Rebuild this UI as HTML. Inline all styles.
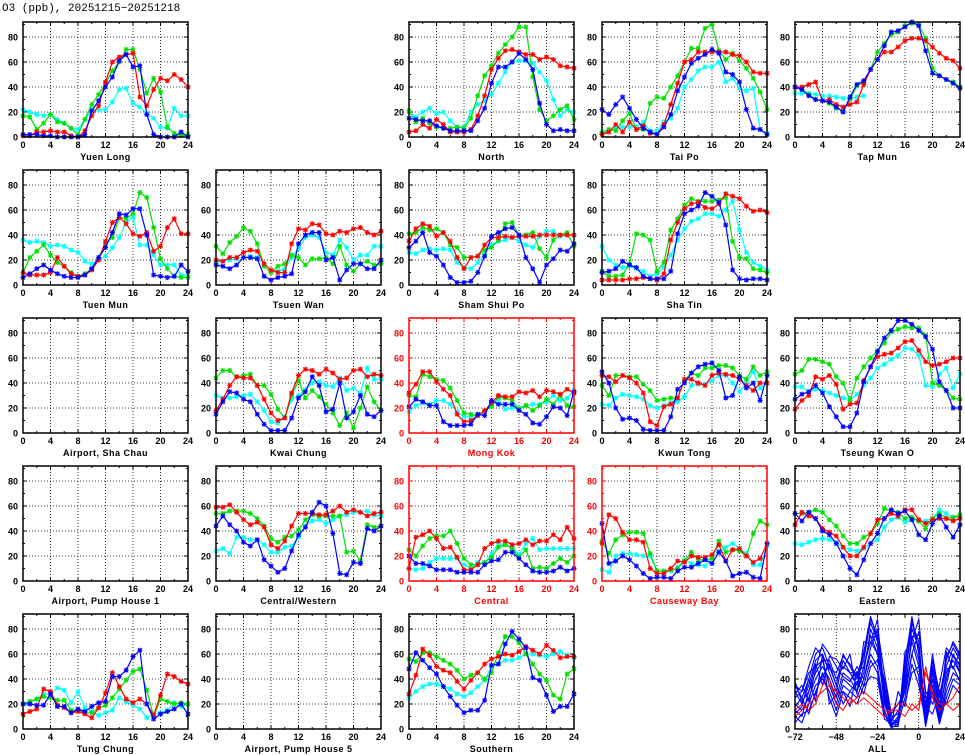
<!DOCTYPE html>
<html><head><meta charset="utf-8">
<style>
html,body{margin:0;padding:0;background:#fff;}
svg{display:block;font-family:"Liberation Sans",sans-serif;}
</style></head>
<body>
<svg id="chart" width="965" height="755" viewBox="0 0 965 755" xmlns="http://www.w3.org/2000/svg">
<text x="2" y="11" font-size="11" fill="#000" font-family="Liberation Mono, monospace">O3 (ppb), 20251215−20251218</text>
</svg>
<script>
const xTicks=[0,4,8,12,16,20,24];
const yTicks=[0,20,40,60,80];
const allTicks=[-72,-48,-24,0,24];

const YL_red=[1,1,4,4,5,4,4,1,0,5,17,25,44,60,64,66,67,32,25,38,47,45,50,46,40];
const YL_green=[17,16,6,11,18,12,11,7,2,14,26,34,43,53,60,70,70,54,35,47,36,8,3,1,2];
const YL_blue=[2,2,2,1,1,0,0,0,0,2,21,29,40,48,61,66,56,57,18,2,0,0,0,4,0];
const YL_cyan=[22,20,18,17,18,14,11,7,6,14,22,22,22,28,38,39,27,24,19,15,8,7,23,17,17];

const NO_red=[4,5,10,7,14,10,4,4,4,6,17,33,54,63,69,70,68,66,66,62,64,62,57,56,55];
const NO_green=[21,12,15,11,8,7,7,8,7,15,33,49,57,67,74,80,88,88,48,22,13,17,22,25,14];
const NO_blue=[15,14,13,13,9,7,5,5,5,5,13,23,43,56,56,60,67,62,54,27,10,5,6,5,5];
const NO_cyan=[20,16,20,23,19,20,13,8,8,20,26,29,34,43,52,60,61,61,59,52,45,30,17,22,20];

const TP_red=[2,4,10,4,12,6,9,3,2,10,26,43,60,62,68,68,68,68,68,66,65,60,52,51,51];
const TP_green=[3,6,5,13,19,6,6,27,32,31,40,49,60,71,71,87,90,69,62,67,61,55,47,36,22];
const TP_blue=[22,18,26,32,23,14,7,4,2,8,18,37,48,59,63,66,70,67,52,50,44,22,7,6,2];
const TP_cyan=[4,5,7,8,8,8,12,5,5,12,15,23,40,46,53,56,56,60,44,47,39,37,39,6,3];

const TM_red=[40,40,42,44,29,30,26,24,26,28,42,54,62,68,68,72,77,79,79,77,72,67,63,61,55];
const TM_green=[40,38,34,30,29,27,23,21,30,41,44,54,68,75,82,84,89,91,90,79,55,49,46,44,40];
const TM_blue=[40,38,33,30,29,28,24,20,32,42,45,54,62,73,84,85,88,92,89,69,51,49,46,43,39];
const TM_cyan=[35,35,35,34,33,33,32,31,31,32,33,null,null,null,null,null,null,null,null,null,null,null,null,null,null];

const TU_red=[10,8,8,8,10,22,15,9,7,8,12,20,35,50,54,49,41,39,42,27,31,46,53,41,41];
const TU_green=[10,22,27,32,24,18,15,10,7,9,13,22,33,38,54,53,57,74,70,46,21,13,7,6,6];
const TU_blue=[6,9,13,16,12,9,7,6,6,8,13,22,30,42,57,56,61,61,40,8,7,6,7,16,11];
const TU_cyan=[36,34,35,34,31,32,31,28,26,19,17,20,23,30,38,50,54,32,32,24,16,16,16,8,8];

const TW_red=[20,19,22,22,26,28,27,17,12,10,10,33,45,44,49,48,41,40,43,42,45,46,42,40,43];
const TW_green=[31,25,34,39,46,43,33,15,10,15,17,24,22,16,21,21,22,17,31,16,11,17,19,16,17];
const TW_blue=[16,15,13,16,22,22,21,7,4,6,7,9,33,40,42,42,20,22,4,12,17,17,13,13,20];
const TW_cyan=[18,19,20,21,22,23,22,17,12,11,13,22,29,38,40,38,26,24,36,30,20,24,24,31,31];

const SSP_red=[35,45,49,47,39,42,35,22,13,22,23,32,38,38,39,38,39,39,39,40,40,40,40,40,40];
const SSP_green=[41,42,46,44,45,42,32,30,22,22,23,28,30,36,49,50,40,40,42,29,22,36,40,42,31];
const SSP_blue=[30,35,42,26,23,16,6,2,2,3,10,23,39,42,45,46,40,22,13,2,16,21,28,27,33];
const SSP_cyan=[26,25,28,29,28,29,28,18,14,13,18,25,32,35,36,38,35,32,30,39,43,43,39,40,40];

const ST_red=[4,4,4,4,5,5,6,5,4,9,36,50,61,65,66,62,61,65,73,71,69,63,59,60,58];
const ST_green=[11,7,7,8,17,41,40,36,11,18,44,53,64,69,67,67,67,68,70,35,22,21,13,12,10];
const ST_blue=[10,11,13,19,16,14,7,5,5,5,11,41,57,60,63,74,71,66,48,12,5,4,5,5,4];
const ST_cyan=[31,20,16,14,15,13,11,7,9,14,24,36,45,51,53,57,57,55,60,67,44,26,18,15,12];

const KC_red=[18,27,38,45,44,44,38,27,16,10,12,32,46,51,50,47,51,48,43,44,50,51,45,47,46];
const KC_green=[44,50,50,45,46,47,38,38,31,19,12,30,42,28,34,29,23,16,6,16,4,20,37,25,18];
const KC_blue=[15,25,33,32,27,25,15,7,2,2,2,12,28,33,45,38,17,19,40,12,17,30,15,13,18];
const KC_cyan=[30,28,28,29,30,31,25,18,9,8,13,27,30,35,40,41,38,37,44,34,36,32,52,43,43];

const MK_red=[32,39,49,49,41,35,30,15,9,10,14,18,24,30,29,29,33,32,34,29,34,33,31,35,32];
const MK_green=[30,29,47,45,43,42,36,26,16,15,14,18,21,29,28,26,19,22,18,22,27,23,30,22,21];
const MK_blue=[21,27,25,22,22,9,6,6,6,7,15,14,26,23,23,23,18,15,8,7,13,21,20,14,33];
const MK_cyan=[17,22,24,23,26,26,23,17,13,13,15,17,22,27,19,20,20,22,23,23,25,30,26,28,34];

const KT_red=[46,45,41,46,44,40,32,9,6,21,23,28,43,43,40,38,46,48,47,46,43,38,34,40,40];
const KT_green=[38,30,46,46,45,45,39,34,26,27,28,28,42,48,46,52,52,54,54,52,46,43,53,46,49];
const KT_blue=[49,40,20,11,12,10,3,2,2,2,13,35,40,48,53,55,56,50,28,30,45,36,40,26,46];
const KT_cyan=[23,22,28,31,30,29,27,22,20,22,24,25,29,38,39,39,42,46,46,40,33,40,49,36,40];

const TK_red=[19,26,30,45,43,46,39,19,23,24,42,53,61,63,64,68,73,74,66,57,54,55,57,60,60];
const TK_green=[47,50,59,59,57,55,45,40,26,44,53,60,66,72,81,83,85,84,84,78,40,38,34,28,27];
const TK_blue=[27,31,33,38,32,21,13,5,5,16,41,53,65,76,82,90,90,87,82,77,67,41,34,20,20];
const TK_cyan=[37,37,33,35,34,32,30,28,27,31,38,44,52,55,59,62,68,67,62,38,37,47,52,36,47];

const CW_red=[59,59,61,55,49,45,47,43,29,26,32,44,54,54,54,53,53,56,60,55,57,55,52,54,55];
const CW_green=[54,54,56,56,56,54,50,44,34,31,35,36,41,49,53,52,52,52,52,23,24,16,45,43,44];
const CW_blue=[44,52,45,40,31,28,33,17,12,7,10,24,37,43,55,63,60,38,6,5,15,14,42,40,44];
const CW_cyan=[24,26,22,35,35,33,33,29,23,23,27,28,35,44,48,49,46,49,52,53,55,55,56,53,52];

const CE_red=[10,35,37,40,34,26,27,19,9,9,13,26,30,32,32,29,30,33,29,32,32,37,33,43,34];
const CE_green=[25,20,28,34,36,36,40,30,18,13,13,15,19,27,29,26,19,25,10,11,10,14,18,15,20];
const CE_blue=[20,14,14,12,9,9,9,7,7,7,7,13,16,17,23,23,18,13,8,7,7,8,11,8,10];
const CE_cyan=[10,9,10,15,18,18,18,18,13,10,15,14,22,30,29,27,21,30,34,25,26,26,26,26,26];

const CB_red=[30,53,50,39,33,33,31,10,6,6,10,16,15,20,19,19,21,29,16,25,26,20,15,18,30];
const CB_green=[32,22,33,37,39,39,38,22,8,8,9,10,16,23,17,17,18,32,23,25,24,20,38,48,45];
const CB_blue=[46,14,16,20,17,12,6,2,3,3,2,8,11,11,14,17,14,23,16,4,6,7,3,2,30];
const CB_cyan=[9,7,20,22,22,21,20,20,8,8,8,11,17,14,13,12,18,24,27,30,26,22,13,13,28];

const EA_red=[45,55,52,50,42,39,36,27,20,20,27,38,49,50,54,52,57,57,49,46,49,50,50,48,50];
const EA_green=[54,54,55,57,55,49,44,36,30,30,35,38,46,58,56,55,50,51,48,42,50,54,50,51,53];
const EA_blue=[54,48,55,50,40,37,30,20,10,5,17,30,38,50,57,54,56,49,37,33,46,52,43,35,45];
const EA_cyan=[30,29,31,33,34,33,31,27,25,24,26,30,33,43,49,51,47,49,48,48,50,57,54,50,52];

const TC_red=[12,14,16,32,30,19,17,13,14,12,9,17,29,45,34,24,21,24,20,11,27,44,42,38,36];
const TC_green=[20,22,24,26,25,23,23,15,15,13,13,17,19,25,32,39,46,48,31,10,24,22,20,21,20];
const TC_blue=[20,20,19,19,28,18,18,13,16,14,18,21,22,42,42,47,58,63,20,8,12,14,16,20,12];
const TC_cyan=[20,22,24,28,28,33,31,21,30,17,14,11,13,15,25,22,19,16,9,12,13,15,21,18,20];

const SO_red=[28,43,64,59,50,47,45,38,32,39,45,52,56,58,60,59,62,66,63,60,67,63,57,58,58];
const SO_green=[56,54,61,61,58,55,52,47,40,43,45,40,45,61,74,74,69,60,52,44,39,27,24,44,48];
const SO_blue=[48,61,55,49,44,34,26,19,13,15,15,23,51,52,68,78,72,65,41,39,27,14,18,18,28];
const SO_cyan=[25,30,34,36,36,34,32,28,26,29,34,39,50,52,55,55,57,60,60,59,58,60,62,59,57];

// ALL panel: hours -72..24 every 4h
const allHours=[-72,-68,-64,-60,-56,-52,-48,-44,-40,-36,-32,-28,-24,-20,-16,-12,-8,-4,0,4,8,12,16,20,24];
const ALL_b1=[30,20,35,55,60,45,30,55,45,35,60,85,70,30,5,5,40,85,70,10,55,20,50,65,55];
const ALL_b2=[20,15,25,40,50,40,25,45,40,30,50,75,60,25,3,10,50,90,60,5,45,15,40,60,50];
const ALL_b3=[35,25,40,60,65,50,35,60,50,40,55,88,75,35,8,5,45,80,65,15,60,25,55,70,60];
const ALL_b4=[10,5,20,35,40,30,15,35,30,25,40,60,50,15,2,8,35,70,50,3,35,5,30,45,40];
const ALL_b5=[25,30,45,50,55,55,40,50,45,45,50,70,60,40,10,12,30,75,55,20,50,10,45,55,45];
const ALL_b6=[15,10,30,45,55,35,20,40,35,30,45,80,65,20,5,3,40,85,65,8,40,8,35,60,45];
const ALL_b7=[35,30,50,65,58,48,45,58,52,42,62,90,72,28,4,6,55,88,62,12,48,18,58,68,58];
const ALL_b8=[5,12,15,28,45,25,10,30,25,20,35,55,45,12,1,4,25,60,42,2,30,4,25,40,35];
const ALL_b9=[28,35,22,48,68,60,50,42,38,50,40,65,80,45,12,20,30,60,78,30,20,35,65,58,52];
const ALL_b10=[18,25,12,30,42,52,35,20,30,38,28,50,55,32,6,15,20,45,50,18,12,28,48,50,38];
const ALL_b11=[38,22,30,52,35,58,56,48,60,28,70,68,88,22,2,2,62,70,88,25,30,12,62,48,62];
const ALL_b12=[12,18,40,22,60,20,28,30,18,46,34,42,40,8,4,30,18,52,35,6,55,30,20,35,28];
const ALL_r1=[10,15,20,25,30,35,30,25,20,25,30,25,20,15,15,20,20,15,20,45,30,20,20,25,35];
const ALL_r2=[15,20,15,20,35,40,20,15,25,20,25,20,15,10,15,15,10,20,15,50,25,15,20,15,20];

const COLORS={red:'#ff0000',green:'#00e000',blue:'#0000ff',cyan:'#00ffff'};
const colX=[23,216,409,602,795];
const rowY=[137,285,433,581,729];
const PW=165, PH=115, YMAX=92;

const panels=[
 {name:'Yuen Long',c:0,r:0,s:[YL_cyan,YL_green,YL_red,YL_blue]},
 {name:'North',c:2,r:0,s:[NO_cyan,NO_green,NO_red,NO_blue]},
 {name:'Tai Po',c:3,r:0,s:[TP_cyan,TP_green,TP_red,TP_blue]},
 {name:'Tap Mun',c:4,r:0,s:[TM_cyan,TM_green,TM_red,TM_blue]},
 {name:'Tuen Mun',c:0,r:1,s:[TU_cyan,TU_green,TU_red,TU_blue]},
 {name:'Tsuen Wan',c:1,r:1,s:[TW_cyan,TW_green,TW_red,TW_blue]},
 {name:'Sham Shui Po',c:2,r:1,s:[SSP_cyan,SSP_green,SSP_red,SSP_blue]},
 {name:'Sha Tin',c:3,r:1,s:[ST_cyan,ST_green,ST_red,ST_blue]},
 {name:'Airport, Sha Chau',c:0,r:2,s:null},
 {name:'Kwai Chung',c:1,r:2,s:[KC_cyan,KC_green,KC_red,KC_blue]},
 {name:'Mong Kok',c:2,r:2,red:true,s:[MK_cyan,MK_green,MK_red,MK_blue]},
 {name:'Kwun Tong',c:3,r:2,s:[KT_cyan,KT_green,KT_red,KT_blue]},
 {name:'Tseung Kwan O',c:4,r:2,s:[TK_cyan,TK_green,TK_red,TK_blue]},
 {name:'Airport, Pump House 1',c:0,r:3,s:null},
 {name:'Central/Western',c:1,r:3,s:[CW_cyan,CW_green,CW_red,CW_blue]},
 {name:'Central',c:2,r:3,red:true,s:[CE_cyan,CE_green,CE_red,CE_blue]},
 {name:'Causeway Bay',c:3,r:3,red:true,s:[CB_cyan,CB_green,CB_red,CB_blue]},
 {name:'Eastern',c:4,r:3,s:[EA_cyan,EA_green,EA_red,EA_blue]},
 {name:'Tung Chung',c:0,r:4,s:[TC_cyan,TC_green,TC_red,TC_blue]},
 {name:'Airport, Pump House 5',c:1,r:4,s:null},
 {name:'Southern',c:2,r:4,s:[SO_cyan,SO_green,SO_red,SO_blue]}
];
const seriesColors=['cyan','green','red','blue'];
const svg=document.getElementById('chart');
const NS='http://www.w3.org/2000/svg';
function mk(tag,attrs,parent){const e=document.createElementNS(NS,tag);for(const k in attrs)e.setAttribute(k,attrs[k]);(parent||svg).appendChild(e);return e;}
function slug(s){return s.toLowerCase().replace(/[^a-z0-9]+/g,'-').replace(/-$/,'');}

function drawFrame(g,x0,y0,xmin,xmax,ticks,gridTicks,col,title){
  const sx=v=>x0+(v-xmin)/(xmax-xmin)*PW;
  const sy=v=>y0-v/YMAX*PH;
  gridTicks.forEach(t=>{
    const l=mk('line',{x1:sx(t),x2:sx(t),y1:y0,y2:y0-PH,stroke:'#000','stroke-width':0.8,'stroke-dasharray':'1,2'},g);
    
    
  });
  yTicks.slice(1).forEach(t=>{
    const l=mk('line',{x1:x0,x2:x0+PW,y1:sy(t),y2:sy(t),stroke:'#000','stroke-width':0.8,'stroke-dasharray':'1,2'},g);
    
    
  });
  for(let v=0;v<=90;v+=10){mk('line',{x1:x0,x2:x0+(v%20?2:4),y1:sy(v),y2:sy(v),stroke:col,'stroke-width':1},g);mk('line',{x1:x0+PW,x2:x0+PW-(v%20?2:4),y1:sy(v),y2:sy(v),stroke:col,'stroke-width':1},g);}
  const step=(xmax-xmin)/12;
  for(let i=0;i<=12;i++){const xv=sx(xmin+i*step);const len=i%2?2:4;mk('line',{x1:xv,x2:xv,y1:y0,y2:y0-len,stroke:col,'stroke-width':1},g);mk('line',{x1:xv,x2:xv,y1:y0-PH,y2:y0-PH+len,stroke:col,'stroke-width':1},g);}
  yTicks.forEach(t=>{
    const tx=mk('text',{x:x0-5,y:sy(t)+3.5,'font-size':9,'font-weight':'bold','text-anchor':'end',fill:col},g);
    tx.textContent=t;
    
    
  });
  ticks.forEach(t=>{
    const tx=mk('text',{x:sx(t),y:y0+11,'font-size':9,'font-weight':'bold','text-anchor':'middle',fill:col},g);
    tx.textContent=(t<0?'−'+(-t):t);
    
    
  });
  const ti=mk('text',{x:x0+PW/2,y:y0+23,'font-size':9,'font-weight':'bold','text-anchor':'middle',fill:col,'letter-spacing':'0.5'},g);
  ti.textContent=title;
  
  
  return {sx,sy};
}
function drawBorder(g,x0,y0,col){
  const r=mk('rect',{x:x0,y:y0-PH,width:PW,height:PH,fill:'none',stroke:col,'stroke-width':1.5},g);
  
  
}

panels.forEach(p=>{
  const x0=colX[p.c], y0=rowY[p.r];
  const col=p.red?'#ff0000':'#000';
  const g=mk('g',{});
  
  
  const {sx,sy}=drawFrame(g,x0,y0,0,24,xTicks,xTicks.slice(1,-1),col,p.name);
  if(p.s){
    p.s.forEach((arr,si)=>{
      const c=COLORS[seriesColors[si]];
      let d='';let pen=false;
      arr.forEach((v,h)=>{if(v===null){pen=false;return;}d+=(pen?'L':'M')+sx(h).toFixed(1)+' '+sy(v).toFixed(1);pen=true;});
      const path=mk('path',{d:d,fill:'none',stroke:c,'stroke-width':1.2},g);
      
      
      let md='';
      arr.forEach((v,h)=>{if(v===null)return;const X=sx(h),Y=sy(v);md+=`M${X-2.5} ${Y}h5M${X} ${Y-2.5}v5M${X-2} ${Y-2}l4 4M${X-2} ${Y+2}l4 -4`;});
      const m=mk('path',{d:md,fill:'none',stroke:c,'stroke-width':1.1},g);
      
      
    });
  }
  drawBorder(g,x0,y0,col);
});

(function(){
  const x0=colX[4], y0=rowY[4];
  const g=mk('g',{});
  
  
  const {sx,sy}=drawFrame(g,x0,y0,-72,24,allTicks,[-48,-24,0],'#000','ALL');
  const reds=[ALL_r1,ALL_r2];
  const blues=[ALL_b1,ALL_b2,ALL_b3,ALL_b4,ALL_b5,ALL_b6,ALL_b7,ALL_b8,ALL_b9,ALL_b10,ALL_b11,ALL_b12];
  blues.forEach(arr=>{
    const d=arr.map((v,i)=>(i?'L':'M')+sx(allHours[i]).toFixed(1)+' '+sy(v).toFixed(1)).join('');
    const p=mk('path',{d:d,fill:'none',stroke:'#0000ff','stroke-width':1.1,'stroke-linejoin':'round'},g);
    
    
  });
  reds.forEach(arr=>{
    const d=arr.map((v,i)=>(i?'L':'M')+sx(allHours[i]).toFixed(1)+' '+sy(v).toFixed(1)).join('');
    const p=mk('path',{d:d,fill:'none',stroke:'#ff0000','stroke-width':1},g);
    
    
  });
  drawBorder(g,x0,y0,'#000');
})();
</script>
</body></html>
